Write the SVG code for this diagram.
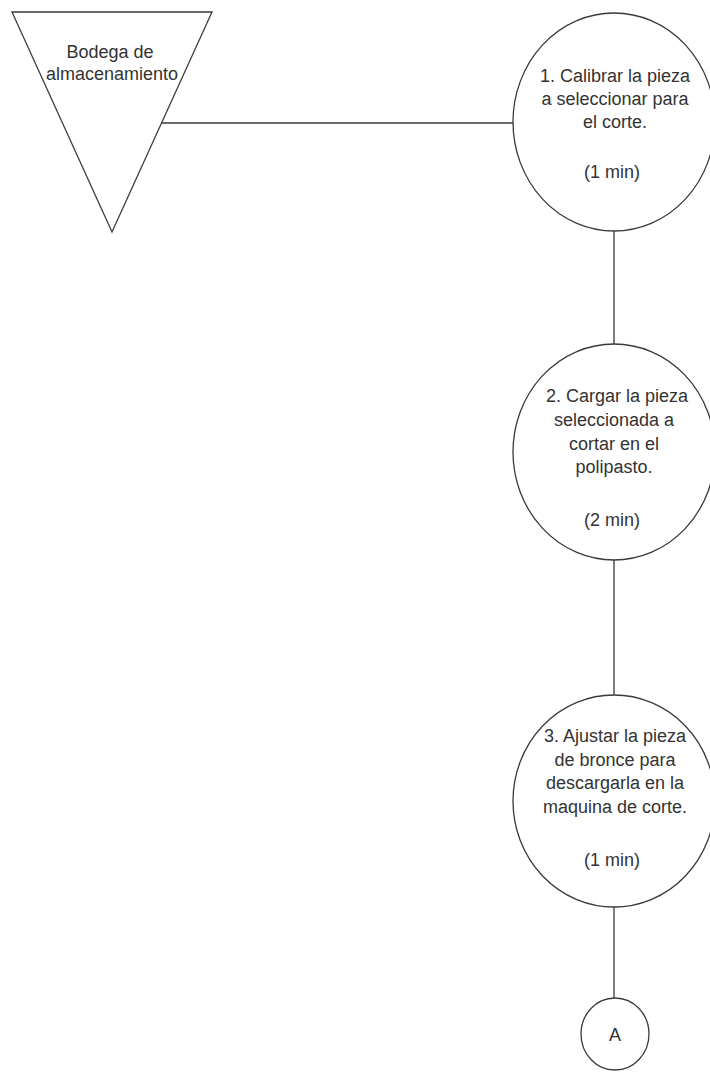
<svg xmlns="http://www.w3.org/2000/svg" width="710" height="1072" viewBox="0 0 710 1072">
  <style>
    .shape { fill: #ffffff; stroke: #3a3a3a; stroke-width: 1.3; }
    .link { fill: none; stroke: #3a3a3a; stroke-width: 1.3; }
    .label { font-family: "Liberation Sans", Arial, sans-serif; font-size: 18px; fill: #333333; text-anchor: middle; }
  </style>
  <rect width="710" height="1072" fill="#ffffff"/>

  <!-- connectors -->
  <g id="connectors">
    <line class="link" x1="162" y1="123" x2="513" y2="123"/>
    <line class="link" x1="614" y1="231" x2="614" y2="345"/>
    <line class="link" x1="614" y1="560" x2="614" y2="695"/>
    <line class="link" x1="614" y1="907" x2="614" y2="998"/>
  </g>

  <!-- storage -->
  <g id="bodega">
    <polygon class="shape" points="12,12 212,12 112,232"/>
    <text class="label" x="110" y="58">Bodega de</text>
    <text class="label" x="112" y="80">almacenamiento</text>
  </g>

  <!-- step 1 -->
  <g id="op1">
    <ellipse class="shape" cx="614" cy="122" rx="101" ry="109"/>
    <text class="label" x="615" y="82">1. Calibrar la pieza</text>
    <text class="label" x="615" y="105">a seleccionar para</text>
    <text class="label" x="615" y="128">el corte.</text>
    <text class="label" x="612" y="178">(1 min)</text>
  </g>

  <!-- step 2 -->
  <g id="op2">
    <ellipse class="shape" cx="614" cy="452" rx="101" ry="108"/>
    <text class="label" x="617" y="402">2. Cargar la pieza</text>
    <text class="label" x="614" y="426">seleccionada a</text>
    <text class="label" x="614" y="450">cortar en el</text>
    <text class="label" x="614" y="473">polipasto.</text>
    <text class="label" x="612" y="526">(2 min)</text>
  </g>

  <!-- step 3 -->
  <g id="op3">
    <ellipse class="shape" cx="614" cy="801" rx="101" ry="106"/>
    <text class="label" x="615" y="742">3. Ajustar la pieza</text>
    <text class="label" x="615" y="766">de bronce para</text>
    <text class="label" x="615" y="789">descargarla en la</text>
    <text class="label" x="615" y="813">maquina de corte.</text>
    <text class="label" x="612" y="866">(1 min)</text>
  </g>

  <!-- off-page connector -->
  <g id="conectorA">
    <ellipse class="shape" cx="615" cy="1034" rx="34" ry="36"/>
    <text class="label" x="615" y="1041">A</text>
  </g>
</svg>
